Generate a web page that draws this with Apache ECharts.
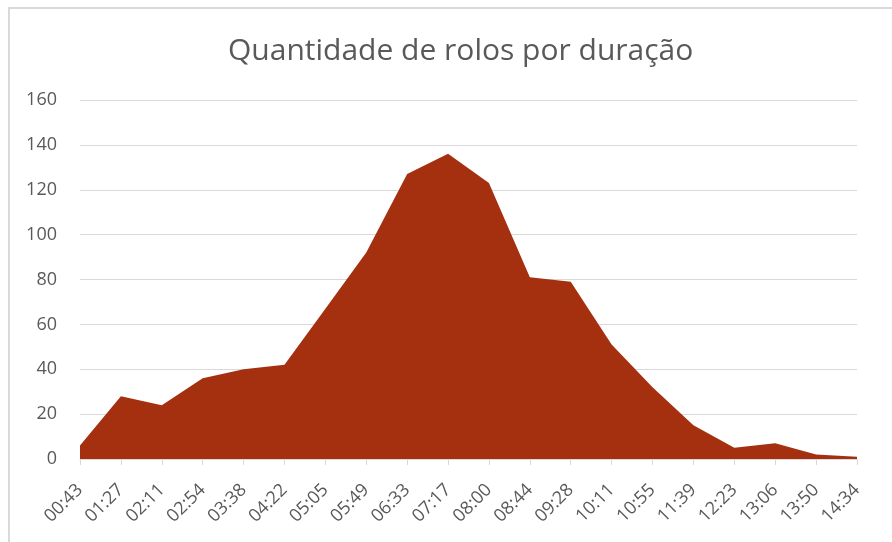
<!DOCTYPE html>
<html>
<head>
<meta charset="utf-8">
<script src="https://cdn.jsdelivr.net/npm/echarts@6/dist/echarts.min.js"></script>
<style>
html,body{margin:0;padding:0;background:#fff;}
#frame{position:absolute;left:8px;top:7px;width:884px;height:535px;border-top:2px solid #d9d9d9;border-left:2px solid #d9d9d9;box-sizing:border-box;}
#chart{position:absolute;left:0;top:0;width:892px;height:542px;}
</style>
</head>
<body>
<div id="frame"></div>
<div id="chart"></div>
<script>
const titleText = 'Quantidade de rolos por duração';
const categories = ['00:43','01:27','02:11','02:54','03:38','04:22','05:05','05:49','06:33','07:17','08:00','08:44','09:28','10:11','10:55','11:39','12:23','13:06','13:50','14:34'];
const values = [6, 28, 24, 36, 40, 42, 67, 92, 127, 136, 123, 81, 79, 51, 32, 15, 5, 7, 2, 1];
const yTicks = [0, 20, 40, 60, 80, 100, 120, 140, 160];

const chart = echarts.init(document.getElementById('chart'), null, {renderer: 'canvas'});
chart.setOption({
  animation: false,
  backgroundColor: 'transparent',
  title: {
    text: titleText,
    left: 223,
    top: 31,
    textStyle: {fontFamily: 'Open Sans', fontWeight: 'normal', fontSize: 30, color: '#595959'}
  },
  grid: {left: 80, right: 35, top: 100, bottom: 83, containLabel: false},
  xAxis: {
    type: 'category',
    data: categories,
    boundaryGap: false,
    axisLine: {lineStyle: {color: '#d9d9d9', width: 1}},
    axisTick: {show: true, length: 6, lineStyle: {color: '#d9d9d9'}},
    axisLabel: {rotate: 45, interval: 0, margin: 28, fontFamily: 'Open Sans', fontSize: 18, color: '#595959'},
    splitLine: {show: false}
  },
  yAxis: {
    type: 'value',
    min: yTicks[0],
    max: yTicks[yTicks.length - 1],
    interval: 20,
    axisLine: {show: false},
    axisTick: {show: false},
    axisLabel: {margin: 23, fontFamily: 'Open Sans', fontSize: 18, color: '#595959'},
    splitLine: {lineStyle: {color: '#d9d9d9', width: 1}}
  },
  series: [{
    type: 'line',
    data: values,
    symbol: 'none',
    lineStyle: {width: 0, color: '#A5300F'},
    areaStyle: {color: '#A5300F', opacity: 1}
  }]
});
</script>
</body>
</html>
